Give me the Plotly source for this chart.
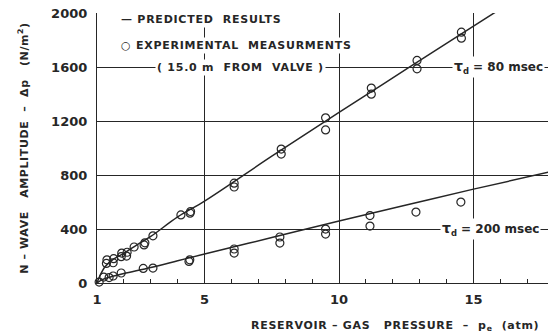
import plotly.graph_objects as go

# Experimental N-wave amplitudes, tau_d = 80 msec
exp80_p = [1.35, 1.37, 1.6, 1.62, 1.9, 1.92, 2.1, 2.12, 2.38, 2.75, 2.78, 3.08,
           4.12, 4.46, 4.48, 6.1, 6.1, 7.85, 7.85, 9.5, 9.5, 11.2, 11.2,
           12.9, 12.9, 14.55, 14.55]
exp80_dp = [145, 172, 150, 180, 195, 222, 200, 228, 267, 282, 298, 350,
            505, 518, 530, 740, 712, 993, 956, 1225, 1135, 1445, 1400,
            1650, 1588, 1860, 1815]

# Experimental N-wave amplitudes, tau_d = 200 msec
exp200_p = [1.08, 1.25, 1.45, 1.6, 1.9, 2.72, 3.08, 4.42, 4.45, 6.1, 6.1,
            7.8, 7.8, 9.5, 9.5, 11.15, 11.15, 12.86, 14.53]
exp200_dp = [7, 44, 40, 52, 74, 108, 111, 160, 172, 252, 222,
             341, 296, 400, 363, 500, 422, 526, 600]

# Predicted curves
pred80_p = [1.0, 1.1, 1.3, 1.6, 2.0, 2.5, 3.0, 4.0, 5.0, 7.5, 10.0, 12.5, 15.0, 16.5]
pred80_dp = [0, 50, 120, 175, 220, 285, 345, 490, 607, 940, 1265, 1585, 1905, 2095]
pred200_p = [1.0, 1.2, 1.5, 2.0, 3.0, 4.0, 5.0, 7.5, 10.0, 12.5, 15.0, 17.8]
pred200_dp = [0, 25, 45, 70, 115, 165, 215, 337, 459, 578, 696, 822]

x_ticks = [1, 5, 10, 15]
x_ticktext = ["1", "5", "10", "15"]
y_ticks = [0, 400, 800, 1200, 1600, 2000]

INK = "#262626"
FONT = "DejaVu Sans"


def spaced(text, px=0.75):
    """Wrap text in a span with extra letter spacing."""
    return f'<span style="letter-spacing:{px}px">{text}</span>'


fig = go.Figure()
for px_, py_ in [(pred80_p, pred80_dp), (pred200_p, pred200_dp)]:
    fig.add_trace(go.Scatter(x=px_, y=py_, mode="lines",
                             line=dict(color=INK, width=1.5, shape="spline"),
                             showlegend=False, hoverinfo="skip"))
for ex, ey in [(exp80_p, exp80_dp), (exp200_p, exp200_dp)]:
    fig.add_trace(go.Scatter(x=ex, y=ey, mode="markers",
                             marker=dict(symbol="circle-open", size=8, color=INK,
                                         line=dict(width=1.2, color=INK)),
                             showlegend=False, cliponaxis=False))


def label(x, y, text, size=11):
    fig.add_annotation(x=x, y=y, xref="x", yref="y", text=text, showarrow=False,
                       xanchor="left", yanchor="middle", bgcolor="white",
                       font=dict(family=FONT, size=size, color=INK, weight="bold"),
                       borderpad=1)


label(1.82, 1956, spaced("— PREDICTED  RESULTS"))
label(1.82, 1763, spaced("○ EXPERIMENTAL  MEASURMENTS"))
label(3.15, 1600, spaced("( 15.0 m  FROM  VALVE )"))
label(14.2, 1600, '<span style="font-size:14px">τ</span><sub>d</sub> = 80 msec', size=12)
label(13.75, 400, '<span style="font-size:14px">τ</span><sub>d</sub> = 200 msec', size=12)

fig.add_annotation(x=0.661, y=-0.125, xref="paper", yref="paper",
                   text=spaced("RESERVOIR – GAS   PRESSURE  –  p<sub>e</sub>  (atm)", 0.7),
                   showarrow=False, xanchor="center", yanchor="top",
                   font=dict(family=FONT, size=11, color=INK, weight="bold"))

fig.update_layout(
    width=548, height=336,
    margin=dict(l=97, r=0, t=13, b=53),
    paper_bgcolor="white", plot_bgcolor="white",
    font=dict(family=FONT, size=12, color=INK),
    xaxis=dict(range=[1, 17.77], tickvals=x_ticks, ticktext=x_ticktext,
               showgrid=True, gridcolor=INK, gridwidth=1,
               showline=True, linecolor=INK, linewidth=1.2,
               ticks="inside", ticklen=4, tickcolor=INK,
               minor=dict(dtick=1, tick0=1, ticks="inside", ticklen=4,
                          tickcolor=INK, showgrid=False),
               zeroline=False, ticklabelstandoff=4,
               tickfont=dict(family=FONT, size=13, color=INK, weight="bold")),
    yaxis=dict(range=[0, 2002], tickvals=y_ticks,
               showgrid=True, gridcolor=INK, gridwidth=1,
               showline=True, linecolor=INK, linewidth=1.2,
               ticks="", zeroline=False, ticklabelstandoff=6,
               tickfont=dict(family=FONT, size=13, color=INK, weight="bold"),
               title=dict(text=spaced("N – WAVE   AMPLITUDE  –  Δp   (N/m<sup>2</sup>)", 0.6),
                          standoff=20,
                          font=dict(family=FONT, size=11, color=INK, weight="bold"))),
)

fig.write_html("out.html")
